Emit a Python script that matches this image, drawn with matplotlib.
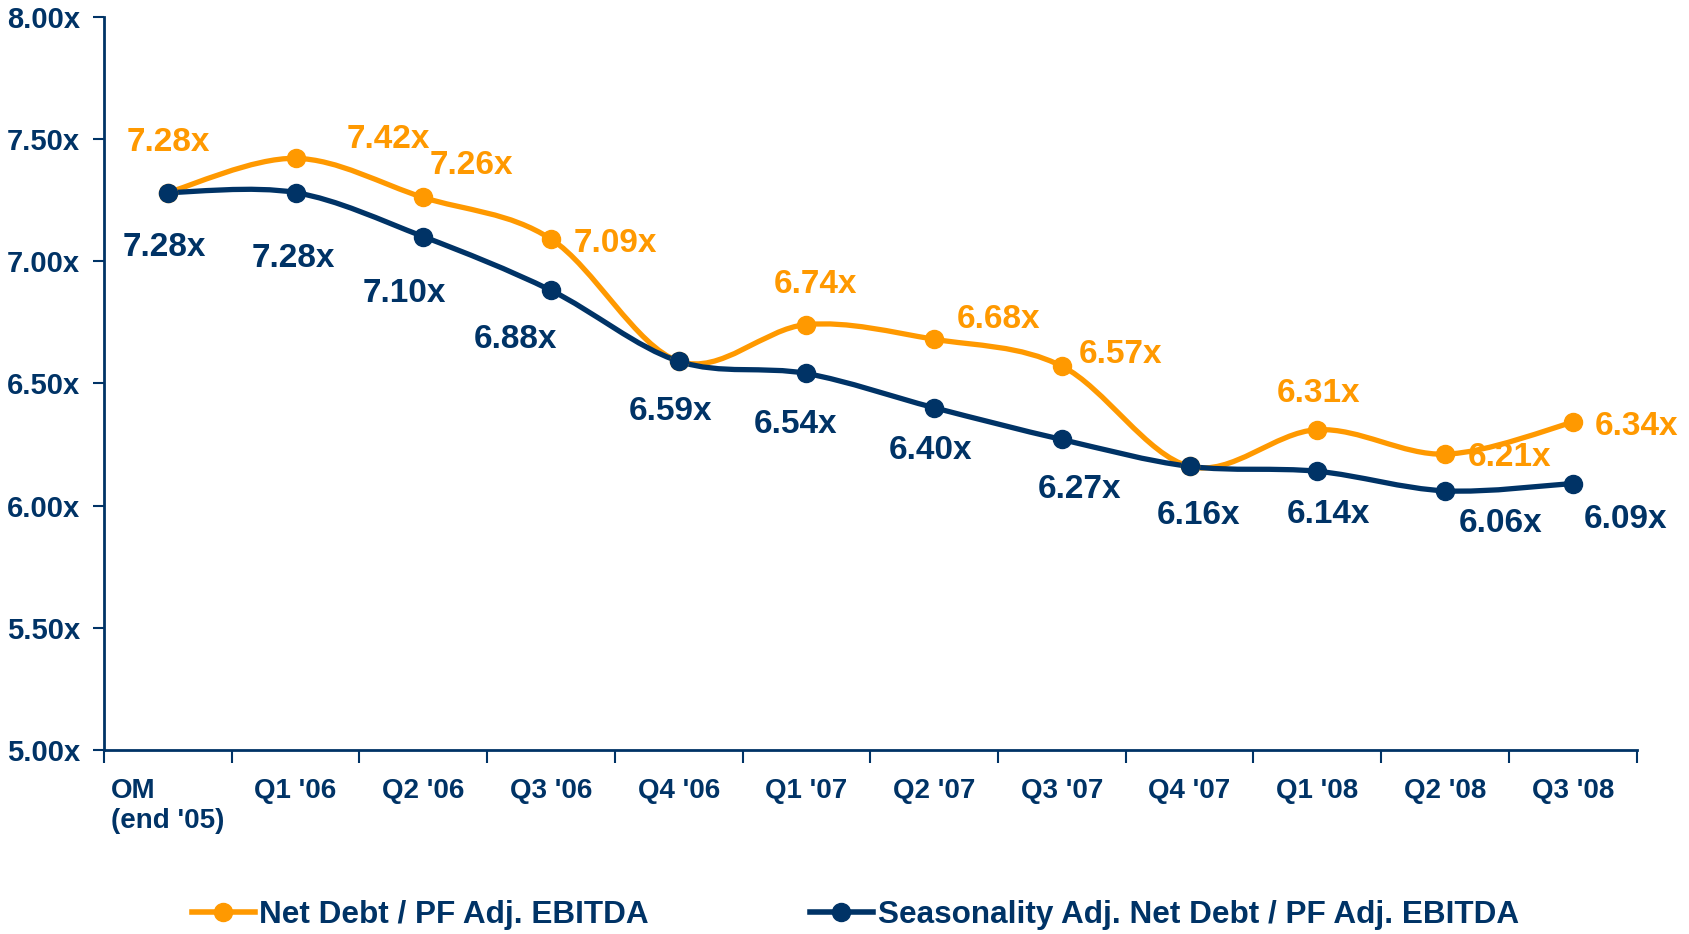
import matplotlib
matplotlib.use("Agg")
import matplotlib.pyplot as plt
from matplotlib.path import Path
from matplotlib.patches import PathPatch
from matplotlib.lines import Line2D

plt.rcParams['font.family'] = ['Liberation Sans', 'DejaVu Sans']
plt.rcParams['font.weight'] = 'bold'

categories = ["OM\n(end '05)", "Q1 '06", "Q2 '06", "Q3 '06", "Q4 '06", "Q1 '07",
              "Q2 '07", "Q3 '07", "Q4 '07", "Q1 '08", "Q2 '08", "Q3 '08"]
net_debt = [7.28, 7.42, 7.26, 7.09, 6.59, 6.74, 6.68, 6.57, 6.16, 6.31, 6.21, 6.34]
seasonal = [7.28, 7.28, 7.10, 6.88, 6.59, 6.54, 6.40, 6.27, 6.16, 6.14, 6.06, 6.09]
net_debt_labels = [True, True, True, True, False, True, True, True, False, True, True, True]
yticks = [5.0, 5.5, 6.0, 6.5, 7.0, 7.5, 8.0]
series_names = ["Net Debt / PF Adj. EBITDA", "Seasonality Adj. Net Debt / PF Adj. EBITDA"]

ORANGE = '#FF9900'
NAVY = '#003366'

# label offsets in pixels (layout only)
orange_off = [(1, 50), (93, 19), (48, 32), (64, -4), (0, 0), (9, 40),
              (64, 20), (59, 12), (0, 0), (1, 36), (65, -3), (64, -4)]
navy_off = [(-3, -55), (-2, -66), (-19, -57), (-35, -49), (-8, -50), (-11, -51),
            (-4, -43), (18, -50), (9, -49), (11, -43), (56, -33), (53, -36)]

fig = plt.figure(figsize=(16.9, 9.34), dpi=100)
ax = fig.add_axes([0.0615, 0.197, 0.9069, 0.7853])

x = list(range(len(categories)))


def smooth_path(xs, ys):
    n = len(xs)
    verts = [(xs[0], ys[0])]
    codes = [Path.MOVETO]
    for i in range(n - 1):
        x0, y0 = xs[max(i - 1, 0)], ys[max(i - 1, 0)]
        x1, y1 = xs[i], ys[i]
        x2, y2 = xs[i + 1], ys[i + 1]
        x3, y3 = xs[min(i + 2, n - 1)], ys[min(i + 2, n - 1)]
        c1 = (x1 + (x2 - x0) / 6.0, y1 + (y2 - y0) / 6.0)
        c2 = (x2 - (x3 - x1) / 6.0, y2 - (y3 - y1) / 6.0)
        verts += [c1, c2, (x2, y2)]
        codes += [Path.CURVE4] * 3
    return Path(verts, codes)


for ys, col, z in [(net_debt, ORANGE, 2), (seasonal, NAVY, 3)]:
    ax.add_patch(PathPatch(smooth_path(x, ys), fill=False, edgecolor=col,
                           linewidth=3.8, zorder=z, capstyle='round', joinstyle='round'))
    ax.plot(x, ys, linestyle='none', marker='o', markersize=13, color=col, zorder=z + 2)

for i, v in enumerate(net_debt):
    if net_debt_labels[i]:
        ax.annotate(f"{v:.2f}x", (i, v), xytext=orange_off[i], textcoords='offset pixels',
                    ha='center', va='center', color=ORANGE, fontsize=24, fontweight='bold')
for i, v in enumerate(seasonal):
    ax.annotate(f"{v:.2f}x", (i, v), xytext=navy_off[i], textcoords='offset pixels',
                ha='center', va='center', color=NAVY, fontsize=24, fontweight='bold')

ax.set_xlim(-0.5, len(categories) - 0.5)
ax.set_ylim(5.0, 8.0)
ax.set_yticks(yticks)
ax.set_yticklabels([f"{t:.2f}x" for t in yticks])
ax.set_xticks([i - 0.5 for i in range(len(categories) + 1)])
ax.set_xticklabels([])
ax.set_xticks(x, minor=True)
ax.set_xticklabels(categories, minor=True, multialignment='left')
ax.tick_params(axis='x', which='minor', length=0, pad=20, labelsize=20, labelcolor=NAVY)
ax.tick_params(axis='x', which='major', length=9, width=1.5, color=NAVY, direction='out')
ax.tick_params(axis='y', length=8, width=1.5, color=NAVY, pad=9, labelsize=21, labelcolor=NAVY)
for lab in ax.get_xticklabels(minor=True) + ax.get_yticklabels():
    lab.set_fontweight('bold')

for s in ['top', 'right']:
    ax.spines[s].set_visible(False)
for s in ['left', 'bottom']:
    ax.spines[s].set_color(NAVY)
    ax.spines[s].set_linewidth(2)

handles = [Line2D([], [], color=ORANGE, lw=4, marker='o', markersize=13),
           Line2D([], [], color=NAVY, lw=4, marker='o', markersize=13)]
leg = fig.legend(handles, series_names, loc='center', bbox_to_anchor=(0.506, 0.02), ncol=2,
                 frameon=False, handlelength=2.0, handletextpad=0.15, columnspacing=5.1,
                 prop={'size': 22.7, 'weight': 'bold'})
for t in leg.get_texts():
    t.set_color(NAVY)

fig.savefig('out.png', dpi=100)
